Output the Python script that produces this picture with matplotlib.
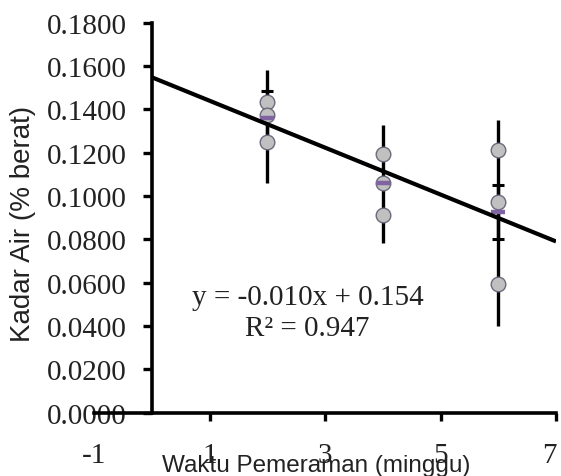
import numpy as np
import matplotlib
matplotlib.use('Agg')
import matplotlib.pyplot as plt
from matplotlib.transforms import ScaledTranslation

# Waktu pemeraman (minggu) dan kadar air tiap ulangan
weeks = [2, 4, 6]
rep_a = [0.1434, 0.1193, 0.1211]
rep_b = [0.1372, 0.1060, 0.0972]
rep_c = [0.1250, 0.0913, 0.0595]
means = [0.1359, 0.1058, 0.0926]

# Error bars (lower / upper)
wide_lo = [0.0300, 0.0274, 0.0528]
wide_hi = [0.0220, 0.0268, 0.0424]
narrow = [0.0123, 0.0, 0.0126]

x_ticks = [-1, 1, 3, 5, 7]
y_ticks = [0.00, 0.02, 0.04, 0.06, 0.08, 0.10, 0.12, 0.14, 0.16, 0.18]

serif = 'Liberation Serif'
sans = 'Liberation Sans'

fig = plt.figure(figsize=(5.61, 4.77), dpi=100)
ax = fig.add_axes([0.1676, 0.1331, 0.8235, 0.8176])

# thick error bars (no caps)
ax.errorbar(weeks, means, yerr=[wide_lo, wide_hi], fmt='none', ecolor='black',
            elinewidth=2.4, capsize=0, zorder=2)
# short error bars with caps
ax.errorbar(weeks, means, yerr=narrow, fmt='none', ecolor='black',
            elinewidth=2.4, capsize=4.5, capthick=2.2, zorder=2)

# replicate points
for rep in [rep_a, rep_b, rep_c]:
    ax.plot(weeks, rep, 'o', ms=10.5, mfc='#c0c0c0', mec='#6a6a7c', mew=1.0, zorder=3)

# mean markers
ax.plot(weeks, means, '_', ms=10.5, mew=3.2, color='#8064A2', zorder=4)

# linear trendline
coef = np.polyfit(weeks, means, 1)
xs = np.array([0, 7])
ax.plot(xs, np.polyval(coef, xs), color='black', lw=3, zorder=5, solid_capstyle='butt')

ax.text(0.462, 0.256, 'y = -0.010x + 0.154\nR² = 0.947', transform=ax.transAxes,
        ha='center', va='center', multialignment='center', linespacing=1.25,
        fontsize=21, family=serif, color='#222222')

ax.set_xlim(-1, 7)
ax.set_ylim(0, 0.18)
ax.spines['left'].set_position(('data', 0))
ax.spines['top'].set_visible(False)
ax.spines['right'].set_visible(False)
for s in ['left', 'bottom']:
    ax.spines[s].set_linewidth(2.6)
ax.patch.set_visible(False)

ax.set_xticks(x_ticks)
ax.set_xticklabels([str(t) for t in x_ticks], family=serif, fontsize=21, color='#222222')
ax.set_yticks(y_ticks)
ax.set_yticklabels([f"{t:.4f}" for t in y_ticks], family=serif, fontsize=21, color='#222222')
ax.tick_params(axis='x', direction='out', length=6, width=2.4, pad=15)
ax.tick_params(axis='y', direction='out', length=6.5, width=2.4, pad=11.5)
ax.xaxis.get_major_ticks()[0].tick1line.set_visible(False)

# keep the last x label inside the picture
last = ax.get_xticklabels()[-1]
last.set_transform(last.get_transform() + ScaledTranslation(-5 / 72, 0, fig.dpi_scale_trans))

fig.text(316 / 561, 1 - 466 / 477, 'Waktu Pemeraman (minggu)', ha='center', va='center',
         fontsize=17.5, family=sans, color='#222222')
fig.text(23 / 561, 1 - 224 / 477, 'Kadar Air (% berat)', ha='center', va='center',
         rotation=90, fontsize=20, family=sans, color='#222222')

fig.savefig('out.png', dpi=100)
